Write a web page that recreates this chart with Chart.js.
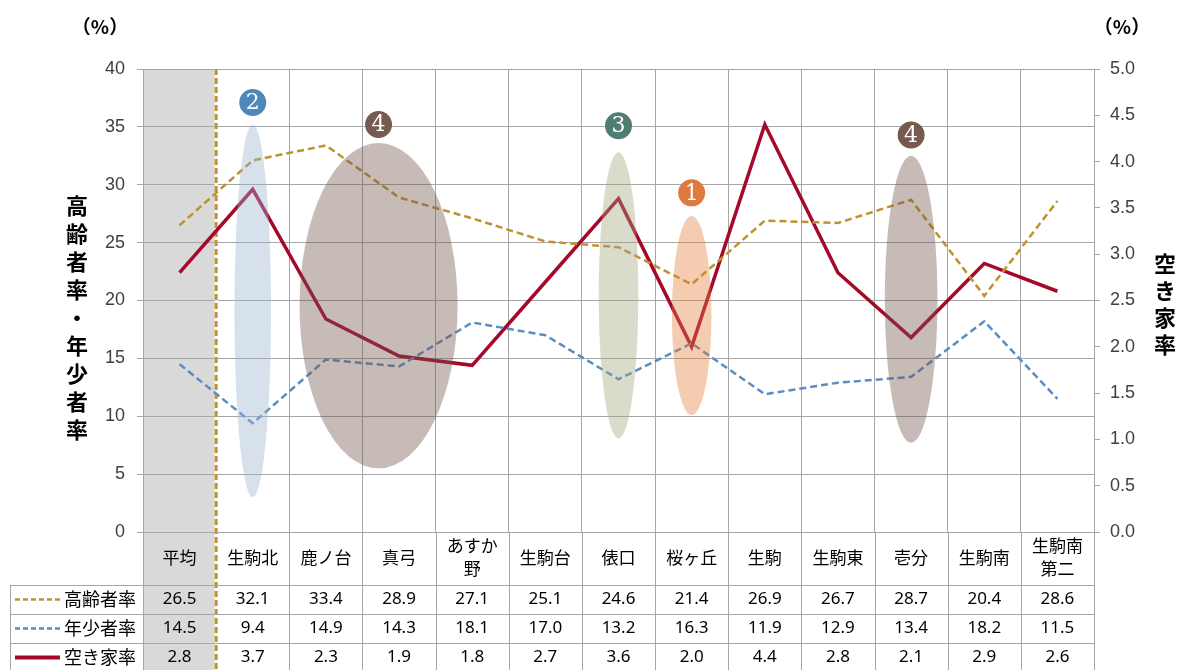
<!DOCTYPE html>
<html lang="ja">
<head>
<meta charset="UTF-8">
<title>高齢者率・年少者率・空き家率</title>
<script src="https://cdn.jsdelivr.net/npm/chart.js@4/dist/chart.umd.min.js"></script>
<style>
  body { margin: 0; padding: 0; background: #fff; }
  canvas { display: block; }
</style>
</head>
<body>
<canvas id="chart" width="1178" height="670"></canvas>
<script>
// データ
const categories = ['平均', '生駒北', '鹿ノ台', '真弓', ['あすか', '野'], '生駒台', '俵口', '桜ヶ丘', '生駒', '生駒東', '壱分', '生駒南', ['生駒南', '第二']];
const elderly = [26.5, 32.1, 33.4, 28.9, 27.1, 25.1, 24.6, 21.4, 26.9, 26.7, 28.7, 20.4, 28.6];
const youth = [14.5, 9.4, 14.9, 14.3, 18.1, 17.0, 13.2, 16.3, 11.9, 12.9, 13.4, 18.2, 11.5];
const vacancy = [2.8, 3.7, 2.3, 1.9, 1.8, 2.7, 3.6, 2.0, 4.4, 2.8, 2.1, 2.9, 2.6];
const seriesNames = ['高齢者率', '年少者率', '空き家率'];

// 楕円と番号 (カテゴリ位置, 左軸の値)
const marks = [
  { num: '2', cx: 1, top: 35.2, bottom: 3.0, half: 0.25, badgeY: 37.1, fill: 'rgba(152,180,207,0.4)', badge: '#4f87b8' },
  { num: '4', cx: 2.72, top: 33.6, bottom: 5.5, half: 1.08, badgeY: 35.2, fill: 'rgba(112,85,75,0.4)', badge: '#76594f' },
  { num: '3', cx: 6, top: 32.8, bottom: 8.1, half: 0.27, badgeY: 35.1, fill: 'rgba(160,165,125,0.4)', badge: '#4f7d72' },
  { num: '1', cx: 7, top: 27.3, bottom: 10.1, half: 0.27, badgeY: 29.3, fill: 'rgba(227,127,62,0.4)', badge: '#e0793f' },
  { num: '4', cx: 10, top: 32.5, bottom: 7.7, half: 0.36, badgeY: 34.3, fill: 'rgba(112,85,75,0.4)', badge: '#76594f' }
];

const GOLD = '#bf922f';
const BLUE = '#5a8ec2';
const RED = '#a6082a';
const GRID = '#a6a6a6';

function catStep(x) {
  return x.getPixelForValue(1) - x.getPixelForValue(0);
}

// 平均の灰色帯と区切り線
const columnBg = {
  id: 'columnBg',
  beforeDraw(chart) {
    const ctx = chart.ctx, x = chart.scales.x, area = chart.chartArea;
    const step = catStep(x);
    const left = x.getPixelForValue(0) - step / 2;
    ctx.save();
    ctx.fillStyle = '#d9d9d9';
    ctx.fillRect(left, area.top, step, chart.height - area.top);
    ctx.restore();
  },
  beforeDatasetsDraw(chart) {
    const ctx = chart.ctx, x = chart.scales.x, area = chart.chartArea;
    const px = x.getPixelForValue(0) + catStep(x) / 2;
    ctx.save();
    ctx.strokeStyle = '#fff';
    ctx.lineWidth = 3;
    ctx.beginPath();
    ctx.moveTo(px, area.top);
    ctx.lineTo(px, chart.height);
    ctx.stroke();
    ctx.strokeStyle = GOLD;
    ctx.setLineDash([6, 3]);
    ctx.stroke();
    ctx.restore();
  }
};

// 楕円と丸数字
const ellipses = {
  id: 'ellipses',
  afterDatasetsDraw(chart) {
    const ctx = chart.ctx, x = chart.scales.x, y = chart.scales.y;
    const step = catStep(x);
    const x0 = x.getPixelForValue(0);
    ctx.save();
    marks.forEach(m => {
      const cx = x0 + m.cx * step;
      const t = y.getPixelForValue(m.top), b = y.getPixelForValue(m.bottom);
      ctx.fillStyle = m.fill;
      ctx.beginPath();
      ctx.ellipse(cx, (t + b) / 2, m.half * step, (b - t) / 2, 0, 0, Math.PI * 2);
      ctx.fill();
      const by = y.getPixelForValue(m.badgeY);
      ctx.fillStyle = m.badge;
      ctx.beginPath();
      ctx.arc(cx, by, 13.5, 0, Math.PI * 2);
      ctx.fill();
      ctx.fillStyle = '#fff';
      ctx.font = '22px "DejaVu Serif", "Liberation Serif", serif';
      ctx.textAlign = 'center';
      ctx.textBaseline = 'middle';
      ctx.fillText(m.num, cx, by + 1);
    });
    ctx.restore();
  }
};

// 軸タイトルとデータ表
const tableAndTitles = {
  id: 'tableAndTitles',
  afterDraw(chart) {
    const ctx = chart.ctx, x = chart.scales.x, area = chart.chartArea;
    const step = catStep(x);
    const left = x.getPixelForValue(0) - step / 2;
    const right = left + step * categories.length;
    const rowTop = 585, rowH = 29;
    ctx.save();

    // 単位
    ctx.fillStyle = '#000';
    ctx.font = 'bold 19px "Noto Sans CJK JP", sans-serif';
    ctx.textAlign = 'center';
    ctx.textBaseline = 'middle';
    ctx.fillText('（%）', 100, 27);
    ctx.fillText('（%）', 1122, 27);

    // 縦書きの軸タイトル
    ctx.font = 'bold 22px "Noto Sans CJK JP", sans-serif';
    Array.from('高齢者率・年少者率').forEach((c, i) => ctx.fillText(c, 77, 206 + i * 28));
    Array.from('空き家率').forEach((c, i) => ctx.fillText(c, 1165, 264 + i * 27));

    // 表の罫線
    ctx.strokeStyle = GRID;
    ctx.lineWidth = 1;
    ctx.beginPath();
    for (let r = 0; r < 3; r++) {
      const yy = Math.round(rowTop + r * rowH) + 0.5;
      ctx.moveTo(10, yy);
      ctx.lineTo(right, yy);
    }
    ctx.moveTo(10.5, rowTop);
    ctx.lineTo(10.5, chart.height);
    for (let k = 0; k <= categories.length; k++) {
      if (k === 1) continue;
      const xx = Math.round(left + k * step) + 0.5;
      ctx.moveTo(xx, area.bottom);
      ctx.lineTo(xx, chart.height);
    }
    ctx.stroke();

    // 凡例と数値
    const rows = [elderly, youth, vacancy];
    const styles = [
      { color: GOLD, dash: [5, 3], width: 2.5 },
      { color: BLUE, dash: [5, 3], width: 2.5 },
      { color: RED, dash: [], width: 4 }
    ];
    rows.forEach((vals, r) => {
      const cy = rowTop + r * rowH + rowH / 2;
      const s = styles[r];
      ctx.strokeStyle = s.color;
      ctx.lineWidth = s.width;
      ctx.setLineDash(s.dash);
      ctx.beginPath();
      ctx.moveTo(15, cy);
      ctx.lineTo(60, cy);
      ctx.stroke();
      ctx.setLineDash([]);
      ctx.fillStyle = '#000';
      ctx.textAlign = 'left';
      ctx.font = '18px "Noto Sans CJK JP", sans-serif';
      ctx.fillText(seriesNames[r], 64, cy);
      ctx.textAlign = 'center';
      ctx.font = '17px "Noto Sans", sans-serif';
      vals.forEach((v, i) => ctx.fillText(v.toFixed(1), x.getPixelForValue(i), cy));
    });
    ctx.restore();
  }
};

const dashed = (color, data, axis) => ({
  data: data, yAxisID: axis, borderColor: color, borderWidth: 2.5,
  borderDash: [7, 4], pointRadius: 0, tension: 0, fill: false
});

new Chart(document.getElementById('chart'), {
  type: 'line',
  data: {
    labels: categories,
    datasets: [
      Object.assign({ label: seriesNames[0] }, dashed(GOLD, elderly, 'y')),
      Object.assign({ label: seriesNames[1] }, dashed(BLUE, youth, 'y')),
      {
        label: seriesNames[2], data: vacancy, yAxisID: 'y1',
        borderColor: RED, borderWidth: 3.5, pointRadius: 0, tension: 0, fill: false
      }
    ]
  },
  options: {
    responsive: false,
    animation: false,
    layout: { padding: { top: 69, bottom: 85, left: 0, right: 0 } },
    plugins: { legend: { display: false }, tooltip: { enabled: false } },
    scales: {
      x: {
        offset: true,
        grid: { offset: true, color: GRID, drawTicks: false },
        border: { display: false },
        ticks: {
          autoSkip: false, maxRotation: 0, padding: 14, crossAlign: 'center',
          color: '#000', font: { family: '"Noto Sans CJK JP", sans-serif', size: 17, lineHeight: 1.35 }
        },
        afterFit(scale) { scale.height = 53; }
      },
      y: {
        position: 'left', min: 0, max: 40,
        ticks: { stepSize: 5, padding: 12, color: '#404040', font: { family: '"Liberation Sans", Arial, sans-serif', size: 18 } },
        grid: { color: GRID, tickLength: 6 },
        border: { color: GRID },
        afterFit(scale) { scale.width = 143; }
      },
      y1: {
        position: 'right', min: 0, max: 5,
        ticks: { stepSize: 0.5, padding: 10, color: '#404040', font: { family: '"Liberation Sans", Arial, sans-serif', size: 18 },
          callback: v => v.toFixed(1) },
        grid: { drawOnChartArea: false, color: GRID, tickLength: 6 },
        border: { color: GRID },
        afterFit(scale) { scale.width = 84; }
      }
    }
  },
  plugins: [columnBg, ellipses, tableAndTitles]
});
</script>
</body>
</html>
